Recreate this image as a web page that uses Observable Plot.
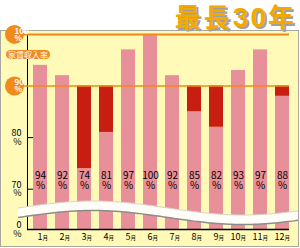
<!DOCTYPE html>
<html>
<head>
<meta charset="utf-8">
<script src="https://cdn.jsdelivr.net/npm/d3@7"></script>
<script src="https://cdn.jsdelivr.net/npm/@observablehq/plot@0.6"></script>
<style>
  body { margin: 0; background: #fff; }
  #wrap { position: relative; width: 300px; height: 248px; overflow: hidden; font-family: "Noto Sans CJK JP", "DejaVu Sans", sans-serif; }
  #panel { position: absolute; left: 0; top: 30px; width: 297px; height: 215px; background: #fffab8; border: 1px solid #a8a8a0; }
  #title { position: absolute; right: 3px; top: 3px; height: 26px; line-height: 26px; font-size: 26px; font-weight: 700; color: #f3a900; text-shadow: 2px 2px 0 #a0a0a0; letter-spacing: 3px; white-space: nowrap; }
  #title .num { font-family: "Liberation Sans", "DejaVu Sans", sans-serif; font-weight: 700; font-size: 28px; letter-spacing: 2px; }
  #pill { position: absolute; left: 6px; top: 50px; width: 44px; height: 9px; border-radius: 5px; background: #f08c1e; color: #fff; font-size: 8px; line-height: 9px; text-align: center; }
  #chart { position: absolute; left: 0; top: 0; }
</style>
</head>
<body>
<div id="wrap">
  <div id="panel"></div>
  <div id="title"></div>
  <div id="chart"></div>
  <div id="pill"></div>
</div>
<script>
const titleParts = ["最長", "30", "年"];
const refLabel = "家賃収入率";
const months = ["1","2","3","4","5","6","7","8","9","10","11","12"];
const monthSuffix = "月";
const rates = [94, 92, 74, 81, 97, 100, 92, 85, 82, 93, 97, 88];
const threshold = 90;
const refLines = [100, 90];
const yTicks = [0, 70, 80];

const pink = "#e8909a";
const red = "#c81e12";
const orange = "#f08a1a";

const titleEl = document.getElementById("title");
titleEl.innerHTML = "";
titleParts.forEach((t, i) => {
  const s = document.createElement("span");
  if (i === 1) s.className = "num";
  s.textContent = t;
  titleEl.appendChild(s);
});
document.getElementById("pill").textContent = refLabel;

const data = months.map((m, i) => ({m, v: rates[i]}));
const shortfall = data.filter(d => d.v < threshold);

// broken axis: 0..70 compressed
const breakAt = 70;
const compress = 7.81 / 70;
const yt = v => v >= breakAt ? v : breakAt - (breakAt - v) * compress;

// decorative axis-break wave
function wave() {
  const xs = d3.range(18, 299, 2);
  const topY = x => 208 - 7 * Math.sin(Math.PI * (x - 18) / 150);
  const th = 9.5;
  const top = xs.map(x => [x, topY(x)]);
  const bot = xs.map(x => [x, topY(x) + th]);
  const g = d3.create("svg:g");
  const line = d3.line();
  g.append("path").attr("d", line(top) + "L" + line(bot.slice().reverse()).slice(1) + "Z").attr("fill", "#fffdf8");
  g.append("path").attr("d", line(top)).attr("fill", "none").attr("stroke", "#d8d4c8").attr("stroke-width", 1);
  g.append("path").attr("d", line(bot)).attr("fill", "none").attr("stroke", "#8c8c88").attr("stroke-width", 1.5);
  return g.node();
}

const chart = Plot.plot({
  width: 300,
  height: 248,
  marginLeft: 27,
  marginRight: 11,
  marginTop: 34,
  marginBottom: 19,
  style: {background: "transparent", fontFamily: "'Noto Sans CJK JP', 'DejaVu Sans', sans-serif", color: "#000"},
  x: {type: "band", domain: months, range: [29, 293], paddingInner: 0.364, paddingOuter: 0.182, axis: null},
  y: {type: "linear", transform: yt, domain: [yt(0), 100], range: [229, 33.9], axis: null},
  marks: [
    Plot.barY(data, {x: "m", y1: () => 0, y2: "v", fill: pink}),
    Plot.barY(shortfall, {x: "m", y1: "v", y2: () => threshold, fill: red}),
    Plot.ruleX([months[0]], {dx: -13, y1: () => 0, y2: () => 100, stroke: "#000", strokeWidth: 1}),
    Plot.ruleY([70, 80], {insetRight: 256, stroke: "#000", strokeWidth: 1}),
    wave,
    Plot.ruleY([0], {stroke: "#000", strokeWidth: 1.5}),
    Plot.ruleY([100], {insetLeft: -13, stroke: orange, strokeWidth: 2}),
    Plot.ruleY([90], {insetLeft: -13, stroke: orange, strokeWidth: 1.5}),
    Plot.dot(refLines, {y: d => d, frameAnchor: "left", dx: -13, r: 9.5, fill: orange, stroke: null}),
    Plot.text(refLines, {y: d => d, frameAnchor: "left", dx: -13, dy: 0.5, text: d => d + "\n%", fill: "#fff", fontSize: 8, fontWeight: "bold", lineHeight: 0.9}),
    Plot.text(yTicks, {y: d => d, frameAnchor: "left", dx: -6, text: d => d + "\n%", textAnchor: "end", fontSize: 9, lineHeight: 0.95, fill: "#000"}),
    Plot.text(data, {x: "m", y: () => 70, dy: -8, text: d => d.v + "\n%", fontSize: 10, lineHeight: 1.0, fill: "#000"}),
    Plot.text(data, {x: "m", y: () => 0, dy: 8, dx: 2, text: "m", textAnchor: "end", fontSize: 9, fill: "#000"}),
    Plot.text(data, {x: "m", y: () => 0, dy: 9, dx: 2, text: () => monthSuffix, textAnchor: "start", fontSize: 5.5, fill: "#000"})
  ]
});
document.getElementById("chart").appendChild(chart);
</script>
</body>
</html>
